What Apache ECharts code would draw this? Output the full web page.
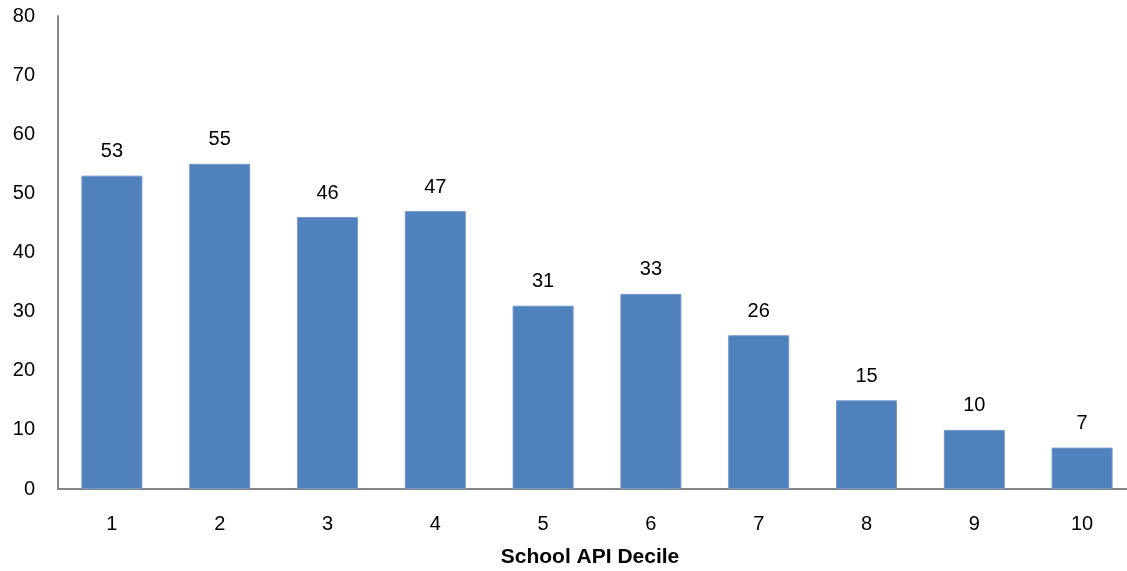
<!DOCTYPE html>
<html>
<head>
<meta charset="utf-8">
<style>
  html, body { margin: 0; padding: 0; background: #fff; }
  #chart { width: 1127px; height: 571px; }
</style>
<script src="https://cdn.jsdelivr.net/npm/echarts@6/dist/echarts.min.js"></script>
</head>
<body>
<div id="chart"></div>
<script>
// Number of schools per API decile
const deciles = ['1', '2', '3', '4', '5', '6', '7', '8', '9', '10'];
const counts = [53, 55, 46, 47, 31, 33, 26, 15, 10, 7];
const yTicks = { min: 0, max: 80, interval: 10 };
const xTitle = 'School API Decile';

const chart = echarts.init(document.getElementById('chart'));
const font = '"Liberation Sans", Arial, sans-serif';

chart.setOption({
  animation: false,
  grid: { left: 58, top: 16, width: 1078, height: 473, outerBoundsMode: 'none', containLabel: false },
  xAxis: {
    type: 'category',
    data: deciles,
    name: xTitle,
    nameLocation: 'middle',
    nameGap: 58,
    nameTextStyle: { fontFamily: font, fontSize: 21, fontWeight: 'bold', color: '#000', padding: [0, 14, 0, 0] },
    axisLine: { lineStyle: { color: '#868686', width: 2 } },
    axisTick: { show: false },
    axisLabel: { fontFamily: font, fontSize: 20, color: '#000', margin: 25 }
  },
  yAxis: {
    type: 'value',
    min: yTicks.min,
    max: yTicks.max,
    interval: yTicks.interval,
    axisLine: { show: true, lineStyle: { color: '#868686', width: 2 } },
    axisTick: { show: false },
    splitLine: { show: false },
    axisLabel: { fontFamily: font, fontSize: 20, color: '#000', margin: 23 }
  },
  series: [{
    type: 'bar',
    data: counts,
    barWidth: 61,
    itemStyle: { color: '#4F81BD', borderColor: '#7399CB', borderWidth: 1 },
    label: {
      show: true,
      position: 'top',
      distance: 14,
      fontFamily: font,
      fontSize: 20,
      color: '#000'
    }
  }]
});
</script>
</body>
</html>
